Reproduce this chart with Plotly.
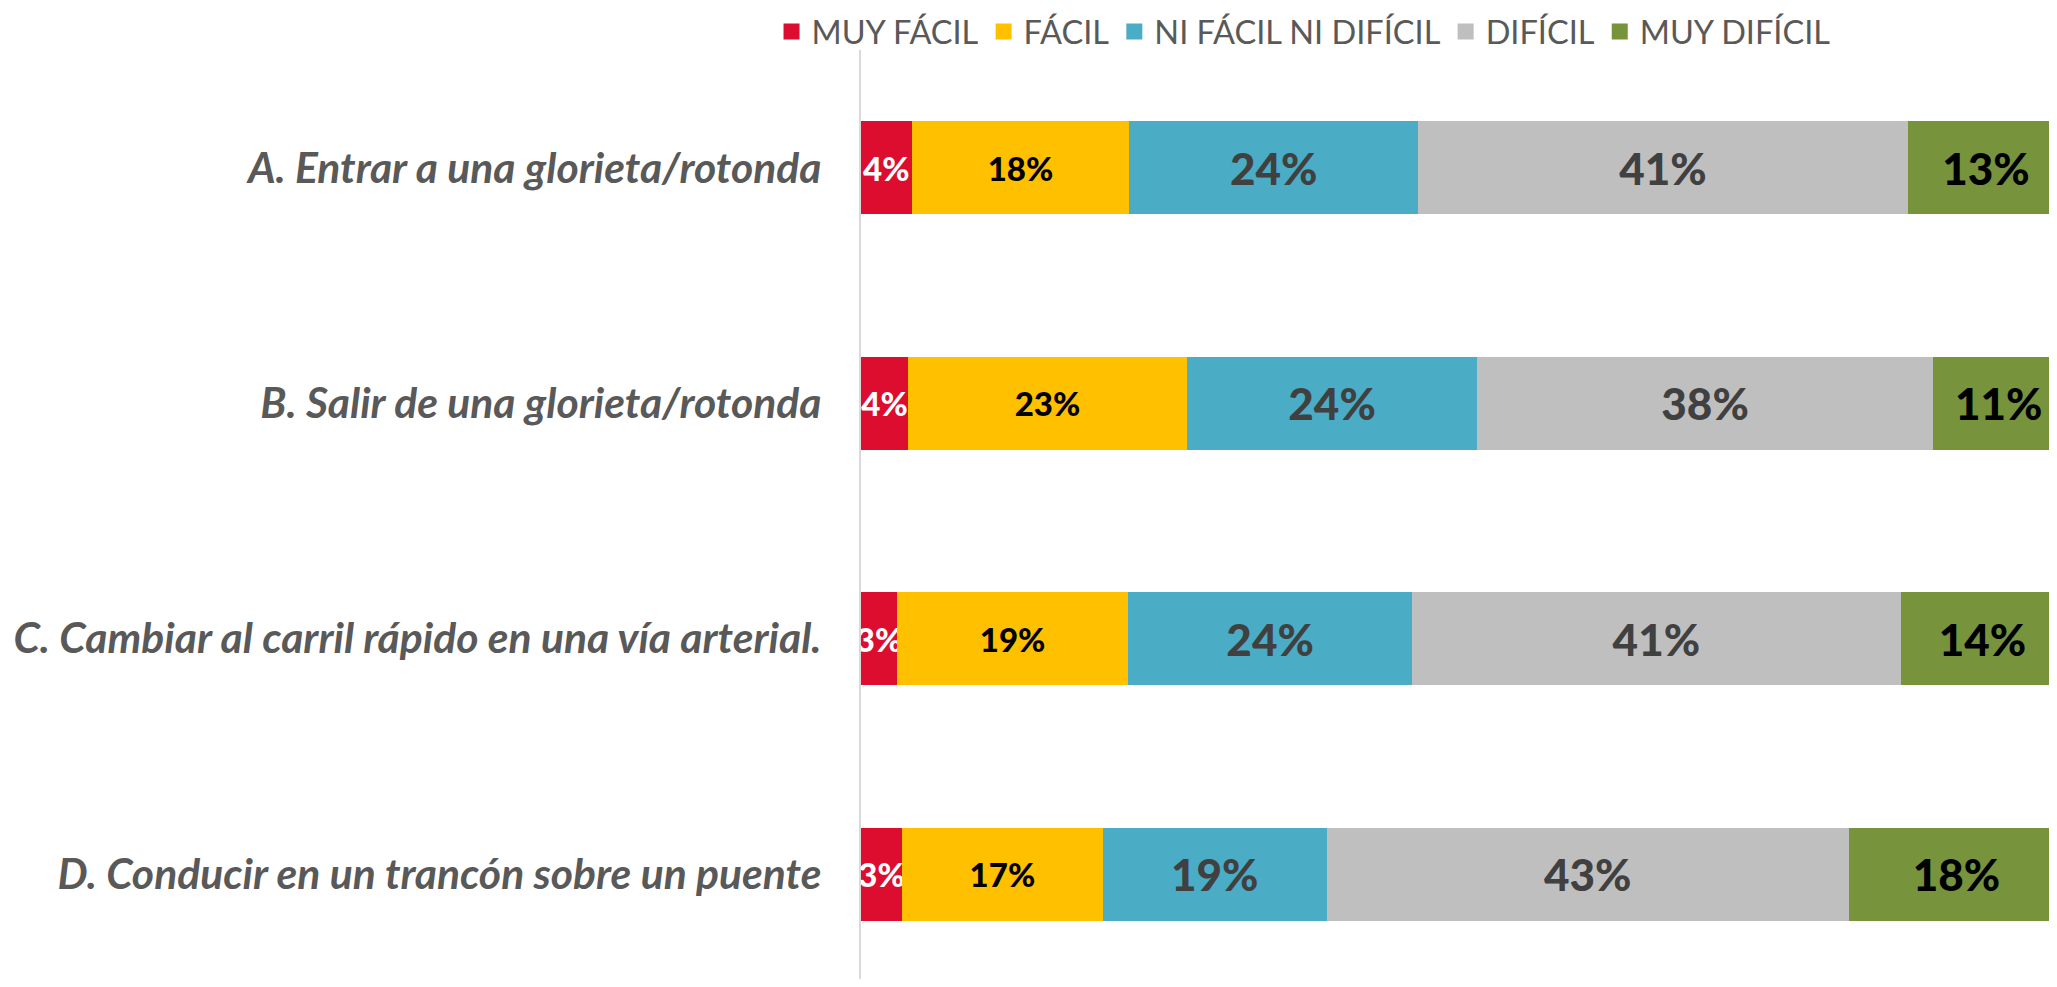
import plotly.graph_objects as go

categories = [
    "A. Entrar a una glorieta/rotonda",
    "B. Salir de una glorieta/rotonda",
    "C. Cambiar al carril rápido en una vía arterial.",
    "D. Conducir en un trancón sobre un puente",
]
series_names = ["MUY FÁCIL", "FÁCIL", "NI FÁCIL NI DIFÍCIL", "DIFÍCIL", "MUY DIFÍCIL"]
muy_facil = [4.2, 3.9, 3.0, 3.4]
facil = [18.1, 23.2, 19.2, 16.7]
ni_facil_ni_dificil = [24.0, 24.1, 23.6, 18.6]
dificil = [40.7, 37.9, 40.6, 43.4]
muy_dificil = [13.0, 10.9, 13.6, 17.9]

series_values = [muy_facil, facil, ni_facil_ni_dificil, dificil, muy_dificil]
colors = ["#DC0D2E", "#FFC000", "#4BACC6", "#BFBFBF", "#77933C"]
text_colors = ["#FFFFFF", "#000000", "#404040", "#404040", "#000000"]
text_sizes = [33, 33, 44, 44, 44]

FONT = "Lato, 'Open Sans', sans-serif"

fig = go.Figure()
for name, vals, col, tcol, tsz in zip(series_names, series_values, colors, text_colors, text_sizes):
    fig.add_trace(go.Bar(
        y=categories, x=vals, orientation="h", name=name,
        marker=dict(color=col, line=dict(width=0)),
        width=0.395,
        texttemplate="%{x:.0f}%", textposition="inside", insidetextanchor="middle",
        textangle=0, constraintext="none",
        textfont=dict(family=FONT, size=tsz, color=tcol, weight=900),
        showlegend=False, hoverinfo="skip",
    ))
    fig.add_trace(go.Scatter(
        x=[None], y=[None], mode="markers", name=name,
        marker=dict(symbol="square", size=21, color=col),
        showlegend=True, hoverinfo="skip",
    ))

fig.update_layout(
    width=2049, height=971,
    barmode="stack",
    margin=dict(l=853, r=0, t=42, b=0, pad=0, autoexpand=False),
    paper_bgcolor="white", plot_bgcolor="white",
    font=dict(family=FONT, color="#595959"),
    legend=dict(
        orientation="h", x=0.37, xanchor="center",
        yref="container", y=0.9753, yanchor="middle",
        font=dict(family=FONT, size=32.5, color="#595959"),
        itemsizing="trace", traceorder="normal",
        bgcolor="rgba(0,0,0,0)",
    ),
    xaxis=dict(range=[0, 99.4], showgrid=False, zeroline=False, showticklabels=False,
               showline=False, fixedrange=True),
    yaxis=dict(type="category", range=[3.446, -0.5], showgrid=False, zeroline=False,
               showline=True, linecolor="#D9D9D9", linewidth=2, ticks="",
               ticklabelstandoff=29, automargin=False,
               tickfont=dict(family=FONT, size=42.6, color="#595959", weight="bold", style="italic")),
)

fig.write_html("out.html")
